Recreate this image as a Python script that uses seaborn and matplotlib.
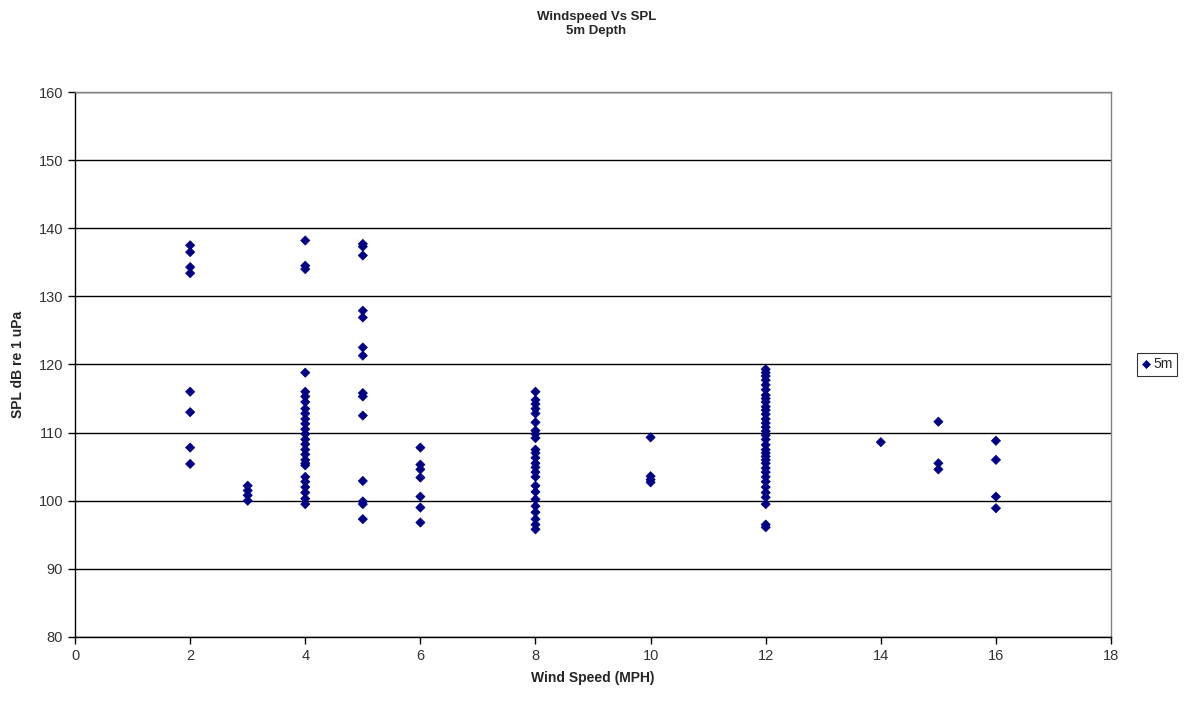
import pandas as pd
import matplotlib
matplotlib.use("Agg")
import matplotlib.pyplot as plt
import seaborn as sns

# Wind speed groups and SPL readings
spl_2 = [137.5, 136.5, 134.3, 133.4, 116.0, 113.0, 107.8, 105.4]
spl_3 = [102.2, 101.5, 100.8, 100.0]
spl_4 = [138.2, 134.5, 134.0, 118.8, 116.0, 115.3, 114.5, 113.5, 112.8, 112.0,
         111.3, 110.5, 109.8, 109.0, 108.3, 107.5, 106.8, 106.0, 105.5, 105.2,
         103.5, 102.8, 102.0, 101.2, 100.3, 99.5]
spl_5 = [137.7, 137.3, 136.0, 127.9, 126.9, 122.5, 121.3, 115.8, 115.3, 112.5,
         102.9, 99.9, 99.5, 97.3]
spl_6 = [107.8, 105.3, 104.6, 103.4, 100.6, 99.0, 96.8]
spl_8 = [116.0, 114.8, 114.2, 113.5, 112.8, 111.5, 110.3, 109.8, 109.2, 107.5,
         107.0, 106.3, 105.5, 104.9, 104.2, 103.5, 102.2, 101.3, 100.2, 99.2,
         98.3, 97.3, 96.5, 95.8]
spl_10 = [109.3, 103.6, 103.1, 102.7]
spl_12 = [119.3, 118.8, 118.3, 117.7, 117.0, 116.3, 115.5, 115.0, 114.5, 113.8,
          113.3, 112.7, 112.0, 111.4, 110.8, 110.2, 109.6, 109.0, 108.2, 107.5,
          107.0, 106.5, 106.0, 105.5, 104.8, 104.2, 103.5, 102.8, 102.0, 101.2,
          100.5, 99.5, 96.5, 96.1]
spl_14 = [108.6]
spl_15 = [111.6, 105.5, 104.6]
spl_16 = [108.8, 106.0, 100.6, 98.9]

groups = {2: spl_2, 3: spl_3, 4: spl_4, 5: spl_5, 6: spl_6, 8: spl_8,
          10: spl_10, 12: spl_12, 14: spl_14, 15: spl_15, 16: spl_16}

rows = []
for ws, vals in groups.items():
    for v in vals:
        rows.append({"wind": ws, "spl": v, "depth": "5m"})
df = pd.DataFrame(rows)

sns.set_style("white")
plt.rcParams["font.family"] = ["Liberation Sans", "DejaVu Sans"]

fig = plt.figure(figsize=(11.93, 7.05), dpi=100)
ax = fig.add_axes([0.0629, 0.0965, 0.8684, 0.773])

sns.scatterplot(data=df, x="wind", y="spl", hue="depth", palette=["#000080"],
                marker="D", s=22, edgecolor="#000080", linewidth=0.5, ax=ax,
                zorder=3)

ax.set_xlim(0, 18)
ax.set_ylim(80, 160)
ax.set_xticks(range(0, 19, 2))
ax.set_yticks(range(80, 161, 10))
ax.yaxis.grid(True, color="black", linewidth=1)
ax.set_axisbelow(True)

for side in ["left", "bottom"]:
    ax.spines[side].set_color("black")
    ax.spines[side].set_linewidth(1)
for side in ["top", "right"]:
    ax.spines[side].set_color("#808080")
    ax.spines[side].set_linewidth(1)

ax.tick_params(axis="both", direction="out", length=5, width=1, color="black",
               labelsize=10.5, labelcolor="#333333", bottom=True, left=True)

ax.set_xlabel("Wind Speed (MPH)", fontsize=10, fontweight="bold", labelpad=6)
ax.set_ylabel("SPL dB re 1 uPa", fontsize=10, fontweight="bold", labelpad=10)

fig.suptitle("Windspeed Vs SPL\n5m Depth", fontsize=9.5, fontweight="bold",
             y=0.985, linespacing=1.3)

leg = ax.legend(loc="center left", bbox_to_anchor=(1.018, 0.5),
                frameon=True, fancybox=False, edgecolor="black",
                fontsize=10, handletextpad=0.1, borderpad=0.3,
                markerscale=0.8, handlelength=0.8)
leg.get_frame().set_linewidth(0.8)

fig.savefig("out.png", dpi=100)
